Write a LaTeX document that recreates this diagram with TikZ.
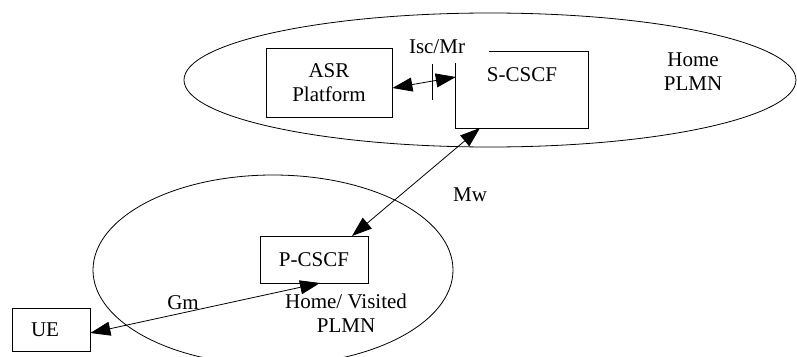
\documentclass[tikz,border=0pt]{standalone}
\usepackage{fontspec}
\setmainfont{Liberation Serif}
\usetikzlibrary{arrows.meta}

\tikzset{
  entity/.style={draw, thick, inner sep=0pt},
  txt/.style={font=\fontsize{21}{24}\selectfont, align=center, inner sep=0pt},
  iface/.style={thick, {Triangle[length=20pt,width=14pt]}-{Triangle[length=20pt,width=14pt]}}
}

\begin{document}
\begin{tikzpicture}[x=1pt, y=-1pt]

\useasboundingbox (0,0) rectangle (797,356);

% networks
\draw[thick] (490,80) ellipse [x radius=306pt, y radius=67pt];
\draw[thick] (273,270) ellipse [x radius=180pt, y radius=95pt];
\node[txt] (home) at (693,72) {Home\\PLMN};
\node[txt] (visited) at (346,313) {Home/ Visited\\PLMN};

% entities
\node[entity, minimum width=126pt, minimum height=69pt, txt] (asr) at (329,82.5) {ASR\\Platform};
\node[minimum width=132pt, minimum height=76pt] (scscf) at (522,90) {};
\draw[thick] ([xshift=33pt]scscf.north west) -- (scscf.north east) -- (scscf.south east)
  -- (scscf.south west) -- ([yshift=-11pt]scscf.north west);
\node[txt] (scscflbl) at (522,75) {S-CSCF};
\node[entity, minimum width=108pt, minimum height=47pt, txt] (pcscf) at (314,259.5) {P-CSCF};
\node[entity, minimum width=78pt, minimum height=43pt] (ue) at (51,329.5) {};
\node[txt] (uelbl) at (45,330) {UE};

% interfaces
\coordinate (sc) at (480,128);
\coordinate (pc) at (352,236);
\coordinate (gm) at (320,283);
\draw[iface] (asr.east |- 0,88) -- (scscf.west |- 0,77);
\draw[thick] (432,64) -- (432,100);
\node[txt] (isc) at (437,47) {Isc/Mr};
\draw[iface] (sc) -- (pc);
\node[txt] (mw) at (470,195) {Mw};
\draw[iface] (ue.east |- 0,333) -- (gm);
\node[txt] (gmlbl) at (183,303) {Gm};

\end{tikzpicture}
\end{document}
